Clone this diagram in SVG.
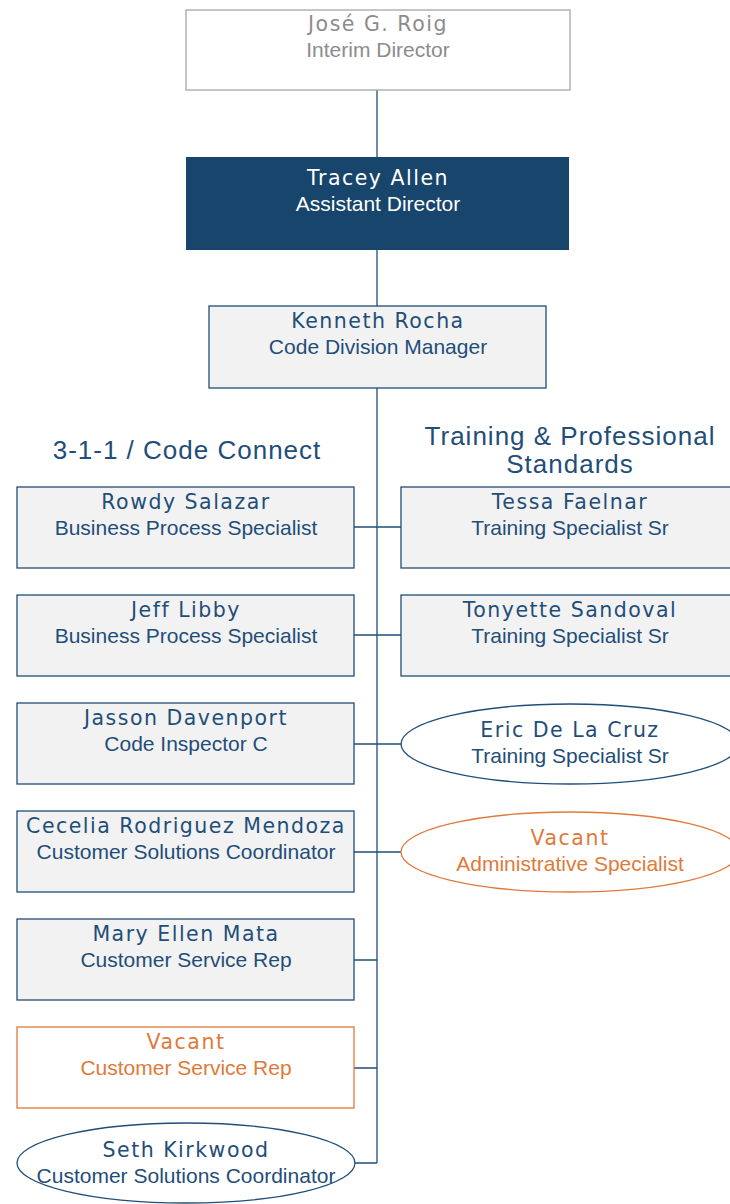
<svg xmlns="http://www.w3.org/2000/svg" width="730" height="1204" viewBox="0 0 730 1204">
<style>
.box{fill:#f2f2f2;stroke:#1f4e79;stroke-width:1.3}
.vac{fill:#ffffff;stroke:#e07a3a;stroke-width:1.3}
.oval{fill:#ffffff;stroke:#1f4e79;stroke-width:1.3}
.nm{font-family:"DejaVu Sans",sans-serif;font-size:20.5px;letter-spacing:1.5px;text-anchor:middle;fill:#1f4e79}
.tt{font-family:"Liberation Sans",Arial,sans-serif;font-size:21px;text-anchor:middle;fill:#1f4e79}
.hd{font-family:"Liberation Sans",Arial,sans-serif;font-size:26px;letter-spacing:1px;text-anchor:middle;fill:#1f4e79}
.or{fill:#e07a3a}
.wh{fill:#ffffff}
.gr{fill:#8c8c8c}
.ln{stroke:#1f4e79;stroke-width:1.3;fill:none}
</style>
<g id="connectors">
<path class="ln" d="M377 90V1163"/>
<path class="ln" d="M354 527H401M354 635H401M354 744H401M354 852H401M354 960H377M354 1068H377M354 1163H377"/>
</g>
<g id="n-roig"><rect x="186" y="10" width="384" height="80" fill="#ffffff" stroke="#a6a6a6" stroke-width="1.3"/><text class="nm gr" x="378" y="31">José G. Roig</text><text class="tt gr" x="378" y="57">Interim Director</text></g>
<g id="n-allen"><rect x="186" y="157" width="383" height="93" fill="#17456c"/><text class="nm wh" x="378" y="185">Tracey Allen</text><text class="tt wh" x="378" y="211">Assistant Director</text></g>
<g id="n-rocha"><rect class="box" x="209" y="306" width="337" height="82"/><text class="nm" x="378" y="328">Kenneth Rocha</text><text class="tt" x="378" y="354">Code Division Manager</text></g>
<text class="hd" x="187" y="459">3-1-1 / Code Connect</text>
<text class="hd" x="570" y="445">Training &amp; Professional</text>
<text class="hd" x="570" y="473">Standards</text>
<g id="n-salazar"><rect class="box" x="17" y="487" width="337" height="81"/><text class="nm" x="186" y="509">Rowdy Salazar</text><text class="tt" x="186" y="535">Business Process Specialist</text></g>
<g id="n-libby"><rect class="box" x="17" y="595" width="337" height="81"/><text class="nm" x="186" y="617">Jeff Libby</text><text class="tt" x="186" y="643">Business Process Specialist</text></g>
<g id="n-davenport"><rect class="box" x="17" y="703" width="337" height="81"/><text class="nm" x="186" y="725">Jasson Davenport</text><text class="tt" x="186" y="751">Code Inspector C</text></g>
<g id="n-mendoza"><rect class="box" x="17" y="811" width="337" height="81"/><text class="nm" x="186" y="833">Cecelia Rodriguez Mendoza</text><text class="tt" x="186" y="859">Customer Solutions Coordinator</text></g>
<g id="n-mata"><rect class="box" x="17" y="919" width="337" height="81"/><text class="nm" x="186" y="941">Mary Ellen Mata</text><text class="tt" x="186" y="967">Customer Service Rep</text></g>
<g id="n-vacant-csr"><rect class="vac" x="17" y="1027" width="337" height="81"/><text class="nm or" x="186" y="1049">Vacant</text><text class="tt or" x="186" y="1075">Customer Service Rep</text></g>
<g id="n-kirkwood"><ellipse class="oval" cx="186" cy="1163" rx="169" ry="40"/><text class="nm" x="186" y="1157">Seth Kirkwood</text><text class="tt" x="186" y="1183">Customer Solutions Coordinator</text></g>
<g id="n-faelnar"><rect class="box" x="401" y="487" width="340" height="81"/><text class="nm" x="570" y="509">Tessa Faelnar</text><text class="tt" x="570" y="535">Training Specialist Sr</text></g>
<g id="n-sandoval"><rect class="box" x="401" y="595" width="340" height="81"/><text class="nm" x="570" y="617">Tonyette Sandoval</text><text class="tt" x="570" y="643">Training Specialist Sr</text></g>
<g id="n-delacruz"><ellipse class="oval" cx="570" cy="744" rx="169" ry="40"/><text class="nm" x="570" y="737">Eric De La Cruz</text><text class="tt" x="570" y="763">Training Specialist Sr</text></g>
<g id="n-vacant-as"><ellipse class="vac" cx="570" cy="852" rx="169" ry="40"/><text class="nm or" x="570" y="845">Vacant</text><text class="tt or" x="570" y="871">Administrative Specialist</text></g>
</svg>
